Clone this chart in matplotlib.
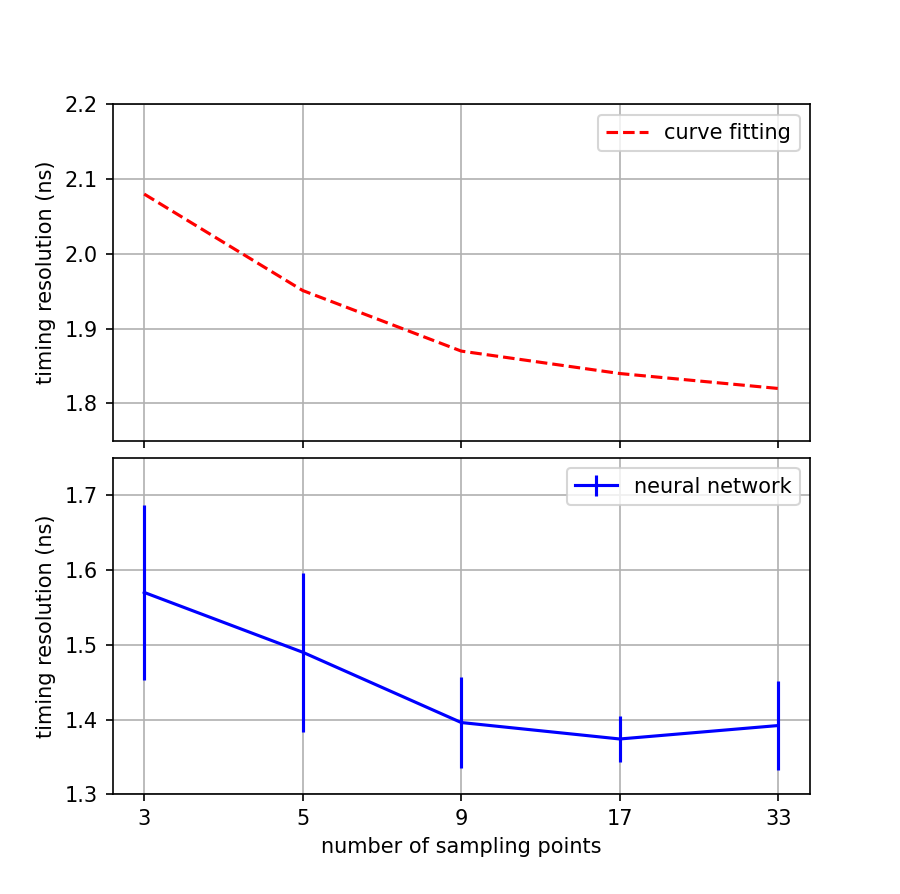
import matplotlib
matplotlib.use("Agg")
import matplotlib.pyplot as plt
import numpy as np

sampling_points = ["3", "5", "9", "17", "33"]
curve_fitting = [2.080, 1.951, 1.870, 1.840, 1.820]
neural_network = [1.570, 1.490, 1.396, 1.374, 1.392]
nn_error = [0.117, 0.106, 0.061, 0.031, 0.060]

x = np.arange(len(sampling_points))

fig, (ax1, ax2) = plt.subplots(2, 1, figsize=(6, 5.96), dpi=150, sharex=True,
                               gridspec_kw={"hspace": 0.0505})
fig.subplots_adjust(top=0.8833, bottom=0.1115)

ax1.plot(x, curve_fitting, "r--", label="curve fitting")
ax1.set_ylim(1.75, 2.2)
ax1.set_yticks([1.8, 1.9, 2.0, 2.1, 2.2])
ax1.set_ylabel("timing resolution (ns)")
ax1.grid(True)
ax1.legend(loc="upper right")

ax2.errorbar(x, neural_network, yerr=nn_error, color="b", label="neural network")
ax2.set_ylim(1.3, 1.75)
ax2.set_yticks([1.3, 1.4, 1.5, 1.6, 1.7])
ax2.set_ylabel("timing resolution (ns)")
ax2.set_xlabel("number of sampling points")
ax2.set_xticks(x)
ax2.set_xticklabels(sampling_points)
ax2.grid(True)
ax2.legend(loc="upper right")

fig.savefig("out.png", dpi=150)
